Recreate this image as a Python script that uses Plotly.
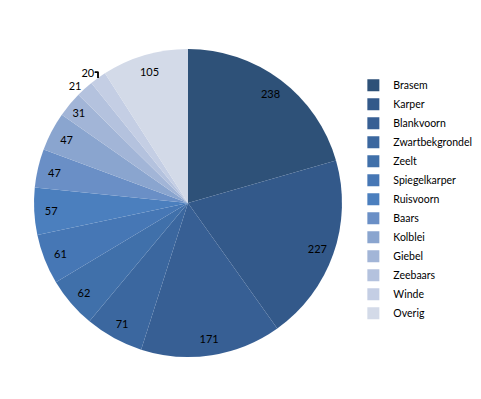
import plotly.graph_objects as go

species = ["Brasem", "Karper", "Blankvoorn", "Zwartbekgrondel", "Zeelt", "Spiegelkarper",
           "Ruisvoorn", "Baars", "Kolblei", "Giebel", "Zeebaars", "Winde", "Overig"]
counts = [238, 227, 171, 71, 62, 61, 57, 47, 47, 31, 21, 20, 105]
colors = ["#2E5178", "#33598A", "#375F94", "#3B679F", "#4070AA", "#4677B5", "#4B7FBE",
          "#6A8FC6", "#8AA5CF", "#A2B5D7", "#B4C2DE", "#C4CEE4", "#D3DAE8"]
outside = [False] * 10 + [True, True, False]

dom = dict(x=[0.054, 0.6944], y=[0.1253, 0.8972])
font = "Lato, sans-serif"

# main filled pie: only the outside labels are drawn here
fig = go.Figure(go.Pie(
    labels=species,
    values=counts,
    sort=False,
    direction="clockwise",
    rotation=0,
    marker=dict(colors=colors, line=dict(width=0)),
    textinfo="value",
    textposition=["outside" if o else "none" for o in outside],
    textfont=dict(family=font, size=11, color="#000000"),
    domain=dom,
    hoverinfo="label+value",
))

# transparent ring pie on top, only used to place the inside labels near the rim
fig.add_trace(go.Pie(
    labels=species,
    values=counts,
    sort=False,
    direction="clockwise",
    rotation=0,
    hole=0.78,
    marker=dict(colors=["rgba(0,0,0,0)"] * len(species), line=dict(width=0)),
    textinfo="value",
    textposition=["outside" if o else "inside" for o in outside],
    insidetextorientation="horizontal",
    textfont=dict(family=font, size=11,
                  color=["rgba(0,0,0,0)" if o else "#000000" for o in outside]),
    domain=dom,
    showlegend=False,
    hoverinfo="skip",
))

fig.update_layout(
    width=481, height=399,
    autosize=False,
    margin=dict(l=0, r=0, t=0, b=0, autoexpand=False),
    paper_bgcolor="white",
    plot_bgcolor="white",
    showlegend=True,
    legend=dict(
        x=0.718, y=0.843, xanchor="left", yanchor="top",
        font=dict(family=font, size=10.5, color="#000000"),
        itemwidth=30,
        tracegroupgap=0,
    ),
)

fig.write_html("out.html")
